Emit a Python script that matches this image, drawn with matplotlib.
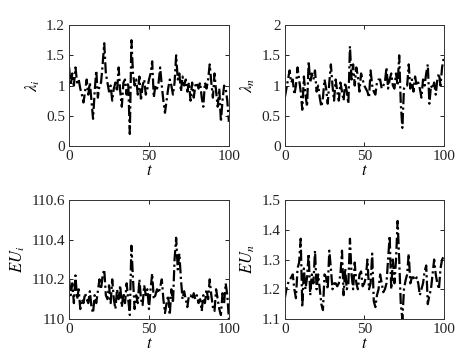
import numpy as np
import matplotlib
matplotlib.use("Agg")
import matplotlib.pyplot as plt

plt.rcParams['font.family'] = ['Liberation Serif', 'DejaVu Serif']
plt.rcParams['mathtext.fontset'] = 'stix'

# values, one per time step t = 0..100
lam_i = [1.3, 1.0, 1.2, 1.0, 1.3, 1.05, 1.1, 0.95, 0.85, 0.72,
         0.9, 1.1, 0.85, 1.05, 0.75, 0.45, 0.9, 1.25, 0.8, 1.0,
         1.05, 1.35, 1.7, 1.2, 1.05, 0.9, 1.0, 0.75, 0.95, 1.05,
         0.9, 1.3, 0.9, 0.65, 1.05, 1.1, 0.85, 1.05, 0.2, 1.75,
         1.2, 1.0, 1.1, 0.85, 1.15, 0.75, 1.0, 1.1, 0.85, 0.95,
         1.1, 1.2, 1.4, 0.8, 1.0, 0.95, 1.05, 1.3, 1.0, 0.75,
         0.55, 0.75, 0.95, 1.1, 1.0, 0.85, 1.05, 1.5, 1.1, 1.2,
         0.9, 1.15, 1.0, 1.1, 0.9, 1.05, 0.75, 1.05, 0.8, 1.0,
         1.05, 0.95, 1.05, 0.8, 0.65, 1.05, 0.95, 1.1, 1.35, 1.05,
         0.8, 1.2, 0.9, 0.65, 0.95, 0.4, 0.75, 1.0, 0.95, 0.75,
         0.4]

lam_n = [0.8, 0.95, 1.1, 1.25, 1.05, 1.1, 0.85, 1.0, 1.3, 1.1,
         0.9, 0.6, 1.15, 0.85, 0.65, 1.4, 1.05, 1.2, 1.1, 1.25,
         0.9, 1.0, 0.8, 0.65, 0.8, 1.1, 0.95, 0.7, 1.05, 1.35,
         1.0, 0.75, 1.1, 0.9, 0.75, 1.05, 0.9, 0.75, 1.05, 0.9,
         0.7, 1.65, 1.1, 1.35, 1.0, 1.3, 1.15, 0.9, 1.2, 1.1,
         1.0, 0.95, 0.9, 0.8, 1.25, 1.0, 0.9, 0.85, 1.05, 1.1,
         1.1, 0.95, 1.0, 1.05, 1.3, 0.95, 1.1, 1.2, 1.0, 0.95,
         1.2, 1.0, 1.5, 0.7, 0.3, 0.95, 1.0, 1.0, 1.35, 0.95,
         1.1, 0.9, 1.15, 1.0, 1.05, 0.95, 0.8, 1.1, 1.0, 1.2,
         1.35, 0.7, 1.0, 0.95, 1.05, 0.85, 1.1, 1.2, 1.0, 1.3,
         1.45]

eu_i = [110.2, 110.12, 110.18, 110.08, 110.22, 110.1, 110.15, 110.05, 110.1, 110.08,
        110.13, 110.1, 110.08, 110.14, 110.06, 110.03, 110.12, 110.08, 110.14, 110.2,
        110.15, 110.22, 110.25, 110.12, 110.1, 110.17, 110.08, 110.2, 110.1, 110.05,
        110.15, 110.1, 110.17, 110.06, 110.13, 110.08, 110.18, 110.1, 110.02, 110.37,
        110.2, 110.05, 110.12, 110.08, 110.2, 110.1, 110.07, 110.17, 110.12, 110.15,
        110.05, 110.15, 110.23, 110.1, 110.12, 110.15, 110.13, 110.16, 110.2, 110.1,
        110.03, 110.08, 110.12, 110.02, 110.15, 110.08, 110.3, 110.41, 110.25, 110.33,
        110.2, 110.1, 110.14, 110.1, 110.06, 110.12, 110.12, 110.1, 110.13, 110.1,
        110.12, 110.08, 110.1, 110.04, 110.12, 110.08, 110.15, 110.1, 110.2, 110.12,
        110.06, 110.04, 110.15, 110.1, 110.05, 110.02, 110.13, 110.08, 110.18, 110.12,
        110.0]

eu_n = [1.17, 1.2, 1.22, 1.23, 1.24, 1.25, 1.2, 1.17, 1.27, 1.29,
        1.37, 1.14, 1.27, 1.2, 1.24, 1.32, 1.18, 1.25, 1.22, 1.33,
        1.2, 1.25, 1.2, 1.15, 1.13, 1.25, 1.24, 1.2, 1.33, 1.27,
        1.2, 1.22, 1.22, 1.21, 1.22, 1.25, 1.33, 1.18, 1.27, 1.2,
        1.22, 1.37, 1.25, 1.2, 1.29, 1.22, 1.2, 1.25, 1.26, 1.21,
        1.22, 1.24, 1.3, 1.2, 1.22, 1.32, 1.16, 1.14, 1.18, 1.2,
        1.25, 1.22, 1.19, 1.2, 1.22, 1.3, 1.38, 1.2, 1.3, 1.22,
        1.3, 1.43, 1.3, 1.15, 1.1, 1.2, 1.23, 1.25, 1.32, 1.22,
        1.24, 1.24, 1.23, 1.24, 1.22, 1.18, 1.2, 1.22, 1.26, 1.28,
        1.15, 1.18, 1.2, 1.25, 1.3, 1.25, 1.22, 1.2, 1.27, 1.3,
        1.31]

x_ticks = [0, 50, 100]

panels = [
    (lam_i, r'$\lambda_i$', (0, 2), [0, 0.5, 1, 1.5, 2], ['0', '0.5', '1', '1.5', '1.2']),
    (lam_n, r'$\lambda_n$', (0, 2), [0, 0.5, 1, 1.5, 2], ['0', '0.5', '1', '1.5', '2']),
    (eu_i, r'$EU_i$', (110, 110.6), [110, 110.2, 110.4, 110.6], ['110', '110.2', '110.4', '110.6']),
    (eu_n, r'$EU_n$', (1.1, 1.5), [1.1, 1.2, 1.3, 1.4, 1.5], ['1.1', '1.2', '1.3', '1.4', '1.5']),
]

# axes boxes in figure fractions [left, bottom, width, height]
boxes = [
    [0.147, 0.592, 0.340, 0.338],
    [0.606, 0.592, 0.338, 0.338],
    [0.147, 0.109, 0.340, 0.332],
    [0.606, 0.109, 0.338, 0.332],
]

fig = plt.figure(figsize=(4.7, 3.58), dpi=100)

for (y, ylab, ylim, yt, ytl), box in zip(panels, boxes):
    ax = fig.add_axes(box)
    t = np.linspace(0, 100, len(y))
    ax.plot(t, y, color='black', lw=1.6, linestyle=(0, (5, 1.5, 1, 1.5)))
    ax.set_xlim(0, 100)
    ax.set_ylim(*ylim)
    ax.set_xticks(x_ticks)
    ax.set_yticks(yt)
    ax.set_yticklabels(ytl)
    ax.tick_params(direction='in', top=True, right=True, labelsize=11,
                   length=3, width=0.6, pad=3, labelcolor='#222222')
    ax.set_xlabel(r'$t$', fontsize=12, labelpad=0)
    ax.set_ylabel(ylab, fontsize=12, labelpad=3)
    for s in ax.spines.values():
        s.set_linewidth(0.7)
        s.set_color('#333333')

fig.savefig('out.png', dpi=100)
